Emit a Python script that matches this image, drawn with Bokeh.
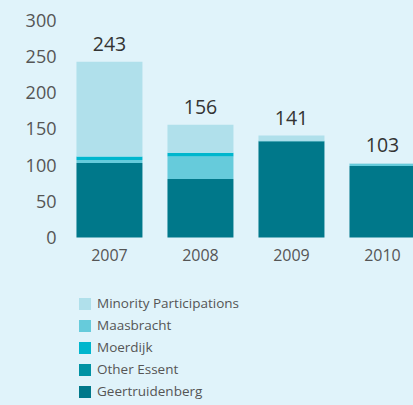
from bokeh.plotting import figure
from bokeh.models import ColumnDataSource, Legend, LegendItem, FixedTicker
from bokeh.core.properties import value
from bokeh.embed import file_html
from bokeh.resources import INLINE

years = ["2007", "2008", "2009", "2010"]
geertruidenberg = [103, 81, 133, 99]
other_essent = [0, 0, 0, 0]
maasbracht = [4, 31, 1, 3]
moerdijk_vals = [5, 5, 0, 0]
minority = [131, 39, 7, 1]
totals = [243, 156, 141, 103]

# stack order, bottom to top
series = ["Geertruidenberg", "Other Essent", "Maasbracht", "Moerdijk", "Minority Participations"]
colors = ["#00788a", "#0092a3", "#66cbdb", "#00b6cd", "#b0e0eb"]
legend_order = ["Minority Participations", "Maasbracht", "Moerdijk", "Other Essent", "Geertruidenberg"]
BG = "#e0f3fa"
FONT = "Open Sans"

xs = list(range(len(years)))
src = ColumnDataSource(dict(
    x=xs,
    Geertruidenberg=geertruidenberg,
    **{"Other Essent": other_essent},
    Maasbracht=maasbracht,
    Moerdijk=moerdijk_vals,
    **{"Minority Participations": minority},
    total=totals,
    label=[str(t) for t in totals],
))

p = figure(width=413, height=405, output_backend="svg", toolbar_location=None,
           x_range=(-0.516, 3.341), y_range=(-232.3, 300),
           min_border_left=62, min_border_right=0, min_border_top=20, min_border_bottom=0)
p.background_fill_color = BG
p.border_fill_color = BG
p.outline_line_color = None
p.grid.visible = False

renderers = p.vbar_stack(series, x="x", width=0.725, color=colors, line_color=None, source=src)
rmap = dict(zip(series, renderers))

p.text(x="x", y="total", text="label", source=src, text_align="center",
       text_baseline="alphabetic", y_offset=-18, text_font=value(FONT),
       text_font_size="19.5px", text_color="#333333")

p.yaxis.ticker = FixedTicker(ticks=[0, 50, 100, 150, 200, 250, 300])
p.xaxis.ticker = FixedTicker(ticks=xs)
p.xaxis.major_label_overrides = {i: y for i, y in enumerate(years)}
p.xaxis.fixed_location = 0
for ax in (p.xaxis, p.yaxis):
    ax.axis_line_color = None
    ax.major_tick_line_color = None
    ax.minor_tick_line_color = None
    ax.major_label_text_font = FONT
    ax.major_label_text_color = "#555555"
p.yaxis.major_label_text_font_size = "18px"
p.yaxis.major_tick_out = 0
p.yaxis.major_label_standoff = 6
p.xaxis.major_label_text_font_size = "16px"
p.xaxis.major_label_standoff = 6

items = [LegendItem(label=name, renderers=[rmap[name]]) for name in legend_order]
legend = Legend(items=items, location=(15, 5), orientation="vertical",
                glyph_width=15, glyph_height=15, spacing=4, label_standoff=5,
                label_text_font=FONT, label_text_font_size="13.5px", label_text_color="#555555",
                label_height=15, border_line_color=None, background_fill_alpha=0,
                margin=0, padding=0)
p.add_layout(legend, "center")

html = file_html(p, INLINE)
html = html.replace("<body>", '<body style="background-color:%s">' % BG)
open("out.html", "w").write(html)
